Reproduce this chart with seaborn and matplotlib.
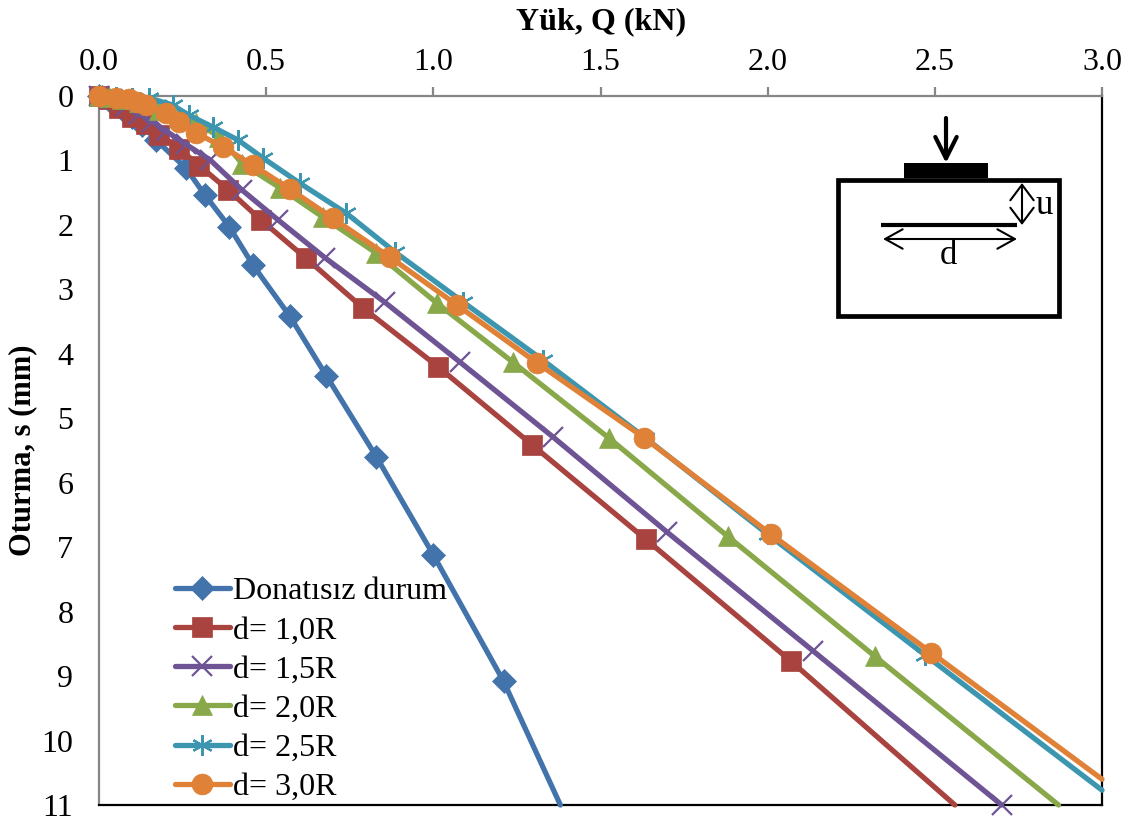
import matplotlib
matplotlib.use("Agg")
import matplotlib.pyplot as plt
import numpy as np
import pandas as pd
import seaborn as sns
from matplotlib.patches import Rectangle

# Values: load Q (kN), settlement s (mm)
q_none = [0, .01, .03, .05, .07, .10, .13, .17, .26, .316, .39, .46, .57, .68, .83, 1.0, 1.21, 1.38]
s_none = [0, .02, .06, .12, .20, .32, .45, .68, 1.12, 1.53, 2.03, 2.62, 3.41, 4.34, 5.6, 7.12, 9.08, 11]
q_10 = [0, .03, .06, .10, .14, .18, .24, .30, .387, .486, .62, .79, 1.014, 1.295, 1.636, 2.07, 2.56]
s_10 = [0, .05, .18, .33, .44, .60, .82, 1.08, 1.46, 1.93, 2.52, 3.29, 4.2, 5.41, 6.88, 8.77, 11]
q_15 = [0, .04, .08, .12, .16, .20, .26, .332, .428, .535, .676, .855, 1.08, 1.358, 1.70, 2.136, 2.70]
s_15 = [0, .05, .15, .28, .40, .54, .75, .99, 1.46, 1.92, 2.51, 3.2, 4.13, 5.29, 6.77, 8.61, 11]
q_20 = [0, .03, .07, .12, .18, .24, .29, .36, .428, .54, .67, .83, 1.01, 1.238, 1.526, 1.88, 2.32, 2.87]
s_20 = [0, .02, .04, .10, .22, .32, .42, .63, 1.05, 1.42, 1.88, 2.44, 3.21, 4.13, 5.31, 6.83, 8.69, 11]
q_25 = [0, .05, .10, .15, .22, .27, .34, .415, .49, .60, .74, .885, 1.09, 1.328, 1.633, 2.0, 2.47, 3.0]
s_25 = [0, .01, .03, .03, .14, .30, .48, .68, .96, 1.35, 1.82, 2.42, 3.2, 4.1, 5.3, 6.8, 8.67, 10.77]
q_30 = [0, .05, .09, .115, .14, .20, .24, .29, .37, .46, .57, .70, .87, 1.07, 1.31, 1.63, 2.01, 2.49, 3.0]
s_30 = [0, .03, .05, .09, .14, .26, .40, .57, .79, 1.07, 1.44, 1.90, 2.5, 3.24, 4.14, 5.3, 6.8, 8.64, 10.6]
labels = ["Donatısız durum", "d= 1,0R", "d= 1,5R", "d= 2,0R", "d= 2,5R", "d= 3,0R"]
q_ticks = [0.0, 0.5, 1.0, 1.5, 2.0, 2.5, 3.0]
s_ticks = list(range(0, 12))

series = [(q_none, s_none), (q_10, s_10), (q_15, s_15), (q_20, s_20), (q_25, s_25), (q_30, s_30)]
colors = ["#4273AB", "#A9433F", "#6E5494", "#88A84A", "#3D96B0", "#DF8136"]
markers = ["D", "s", "x", "^", (6, 2, 0), "o"]
msize = [12, 14.5, 15, 14.5, 15, 15]

sns.set_theme(style="white")
plt.rcParams["font.family"] = ["Liberation Serif", "DejaVu Serif"]
plt.rcParams["text.color"] = "black"
plt.rcParams["axes.labelcolor"] = "black"
fig = plt.figure(figsize=(11.30, 8.21), dpi=100)
W, H = 1130, 821
ax = fig.add_axes([99/W, 1-805/H, (1102-99)/W, (805-96)/H])

for i, ((q, s), lab) in enumerate(zip(series, labels)):
    df = pd.DataFrame({"Q": q, "s": s})
    n = len(q)
    every = list(range(n)) if i == 2 else list(range(n-1))
    sns.lineplot(data=df, x="Q", y="s", sort=False, estimator=None, ax=ax, color=colors[i],
                 lw=3.8, label=lab, marker=markers[i], markersize=msize[i], markevery=every,
                 markeredgecolor=colors[i], markerfacecolor=colors[i],
                 markeredgewidth=1.6 if i in (2, 4) else 0.5, clip_on=False, zorder=3+i)

ax.set_xlim(0, 3)
ax.set_ylim(11, 0)
ax.xaxis.tick_top()
ax.xaxis.set_label_position("top")
ax.set_xticks(q_ticks, [f"{v:.1f}" for v in q_ticks])
ax.set_yticks(s_ticks, [str(v) for v in s_ticks])
ax.tick_params(axis="both", length=6.5, width=1.6, color="#868686", labelsize=23, labelcolor="black", direction="out")
ax.tick_params(axis="x", pad=7)
ax.tick_params(axis="y", pad=12)
ax.set_xlabel("")
ax.set_ylabel("")
fig.text(601/W, 1-22/H, "Yük, Q (kN)", fontsize=23, fontweight="bold", ha="center", va="center")
fig.text(23/W, 1-450/H, "Oturma, s (mm)", fontsize=22, fontweight="bold", rotation=90, ha="center", va="center")
for side, col in [("top", "#868686"), ("left", "#868686"), ("bottom", "black"), ("right", "black")]:
    ax.spines[side].set_visible(True)
    ax.spines[side].set_color(col)
    ax.spines[side].set_linewidth(1.6)

leg = ax.legend(loc="lower left", bbox_to_anchor=(73/1003, 0.0), frameon=False, fontsize=23,
                handlelength=1.7, handletextpad=0.12, labelspacing=0.305, borderpad=0, borderaxespad=0.1)
leg.set_zorder(20)

# Schematic, in figure pixel coordinates
ov = fig.add_axes([0, 0, 1, 1], facecolor="none")
ov.set_xlim(0, W)
ov.set_ylim(H, 0)
ov.axis("off")
ov.add_patch(Rectangle((838, 180), 221, 136, fill=False, ec="black", lw=3.4))
ov.add_patch(Rectangle((904, 163), 84, 15, fc="black", ec="none"))
ov.plot([881, 1017], [225, 225], color="black", lw=3, solid_capstyle="butt")
open_head = dict(color="black", shrinkA=0, shrinkB=0, mutation_scale=14)
ov.annotate("", xy=(946, 163), xytext=(946, 118),
            arrowprops={**open_head, "lw": 3, "arrowstyle": "->,head_length=1.1,head_width=0.55"})
ov.annotate("", xy=(883, 239), xytext=(1017, 239),
            arrowprops={**open_head, "lw": 1.5, "arrowstyle": "<->,head_length=0.9,head_width=0.5"})
ov.annotate("", xy=(1022, 183), xytext=(1022, 225),
            arrowprops={**open_head, "lw": 1.5, "arrowstyle": "<->,head_length=0.8,head_width=0.6"})
ov.text(948, 256, "d", fontsize=25, ha="center", va="center")
ov.text(1044, 205, "u", fontsize=25, ha="center", va="center")

fig.savefig("out.png", dpi=100)
